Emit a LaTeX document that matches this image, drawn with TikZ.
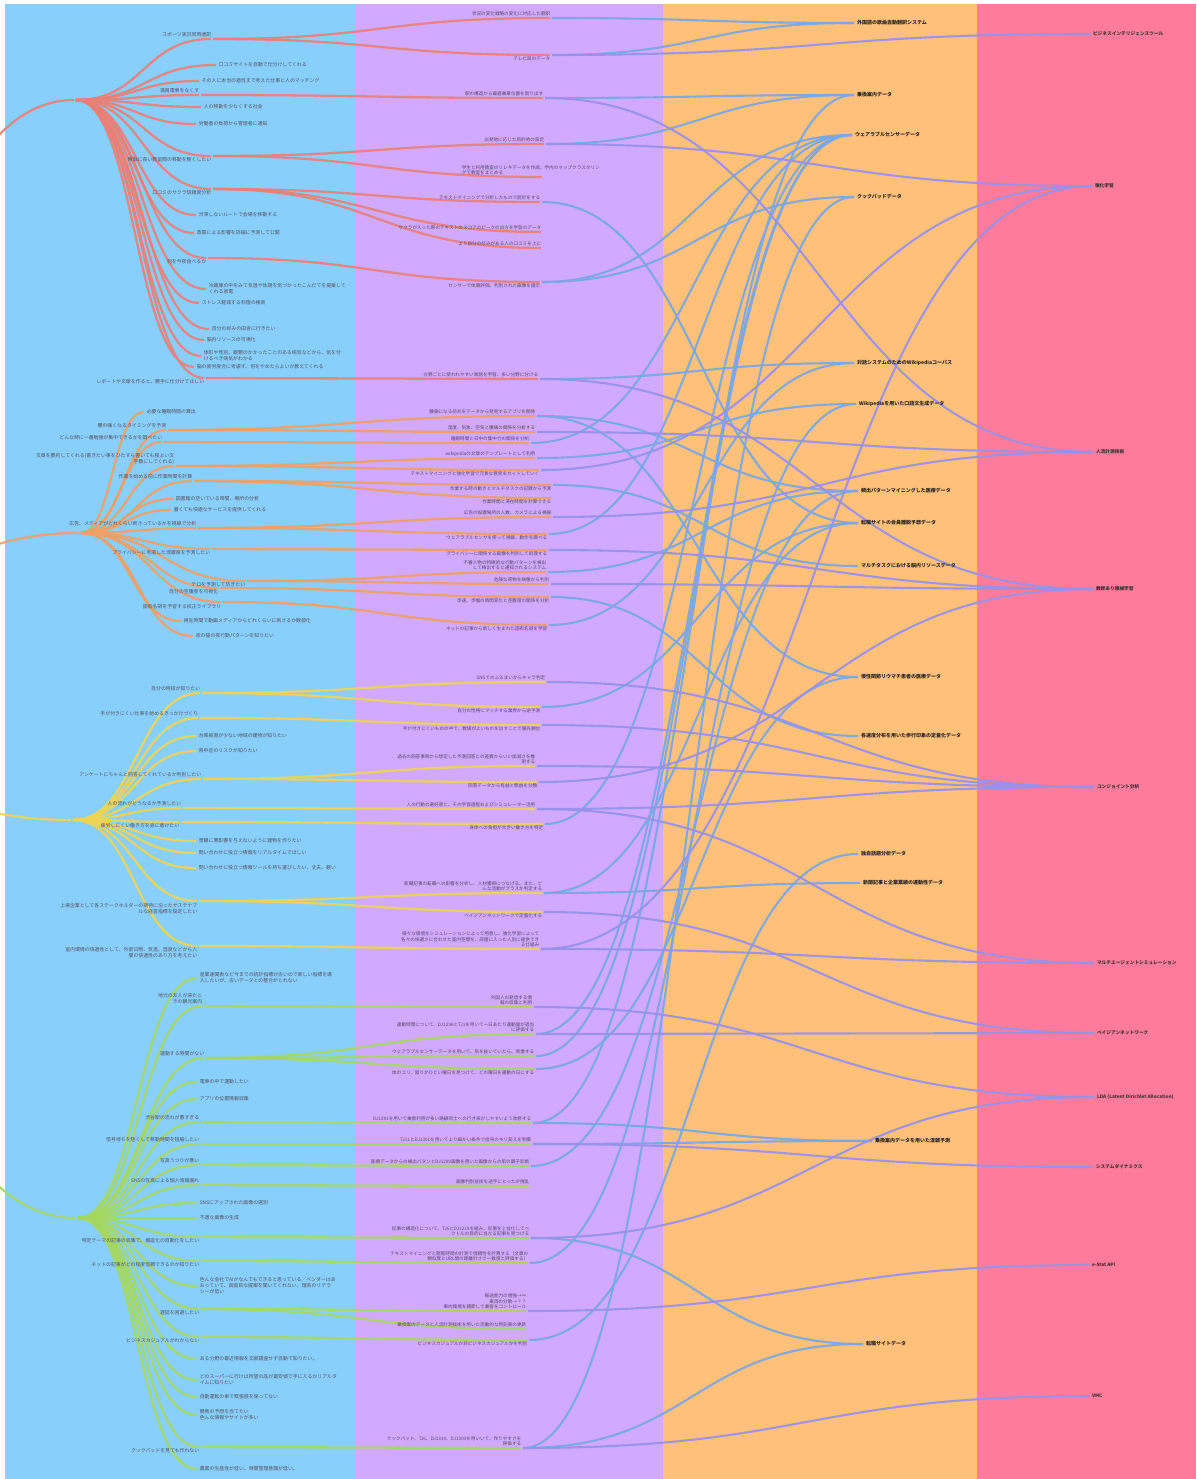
\documentclass[tikz,border=0pt]{standalone}
\usepackage{fontspec}
\newfontfamily\jpf{Noto Sans CJK JP}
\usetikzlibrary{calc}
\definecolor{cblue}{RGB}{137,207,252}
\definecolor{cpurp}{RGB}{209,170,255}
\definecolor{corng}{RGB}{255,192,122}
\definecolor{cpink}{RGB}{255,123,155}
\definecolor{lred}{RGB}{234,128,118}
\definecolor{lorng}{RGB}{240,160,98}
\definecolor{lyell}{RGB}{240,212,82}
\definecolor{lgrn}{RGB}{166,216,96}
\definecolor{lblu}{RGB}{122,168,228}
\definecolor{lvio}{RGB}{152,146,234}
\definecolor{txt}{RGB}{84,82,92}
\definecolor{ptxt}{RGB}{92,70,96}
\pgfdeclarelayer{bg}\pgfdeclarelayer{ln}\pgfsetlayers{bg,ln,main}
\begin{document}
\begin{tikzpicture}[x=1pt, y=-1pt,
    link/.style={to path={let \p1=(\tikztostart), \p2=(\tikztotarget) in
        .. controls ({(\x1+\x2)/2},\y1) and ({(\x1+\x2)/2},\y2) .. (\tikztotarget)}},
    ln/.style={line width=2.3pt, opacity=.9},
    redln/.style={ln, draw=lred},
    orgln/.style={ln, draw=lorng},
    yelln/.style={ln, draw=lyell},
    grnln/.style={ln, draw=lgrn},
    bluln/.style={line width=2.1pt, draw=lblu, opacity=.95},
    violn/.style={line width=2.1pt, draw=lvio, opacity=.95},
    tip/.style={circle, inner sep=0pt, minimum size=1.6pt},
    lb/.style={font=\jpf\fontsize{4.9}{6}\selectfont, text=txt, inner sep=.6pt},
    ul/.style={label={[lb, align=right, anchor=south east]north:#1}},
    dl/.style={label={[lb, align=right, anchor=north east]south:#1}},
    rt/.style={label={[lb, align=left, anchor=west]east:#1}},
  ]
  \useasboundingbox (0,0) rectangle (1196,1479);
  \begin{pgfonlayer}{bg}
    \fill[cblue] (5,4)   rectangle (356,1479);
    \fill[cpurp] (356,4) rectangle (663,1479);
    \fill[corng] (663,4) rectangle (977,1479);
    \fill[cpink] (977,4) rectangle (1196,1479);
  \end{pgfonlayer}

  % needs
  \coordinate (root) at (-320,700);
  \node[tip] (hr) at (75,100)  {};
  \node[tip] (ho) at (80,533)  {};
  \node[tip] (hy) at (72,820)  {};
  \node[tip] (hg) at (77,1218) {};

  \node[tip, ul={スポーツ実況同時通訳}] (r1) at (212,39) {};
  \node[tip, rt={口コミサイトを自動で仕分けしてくれる}] (r2) at (217,65) {};
  \node[tip, rt={その人に本当の適性まで考えた仕事と人のマッチング}] (r3) at (200,81) {};
  \node[tip, ul={満員電車をなくす}] (r4) at (200,95) {};
  \node[tip, rt={人の移動を少なくする社会}] (r5) at (202,107) {};
  \node[tip, rt={労働者の負荷から管理者に通知}] (r6) at (197,124) {};
  \node[tip, dl={無駄に長い教室間の移動を無くしたい}] (r7) at (212,156) {};
  \node[tip, dl={口コミのサクラ信頼度分析}] (r8) at (212,189) {};
  \node[tip, rt={渋滞しないルートで会場を移動する}] (r9) at (197,215) {};
  \node[tip, rt={政策による影響を詳細に予測して公開}] (r10) at (195,233) {};
  \node[tip, dl={何を今夜食べるか}] (r11) at (207,258) {};
  \node[tip, rt={冷蔵庫の中をみて気温や体調を気づかったこんだてを提案して\\くれる家電}] (r12) at (207,289) {};
  \node[tip, rt={ストレス軽減する料理の検索}] (r13) at (200,303) {};
  \node[tip, rt={自分の好みの田舎に行きたい}] (r14) at (210,329) {};
  \node[tip, rt={脳内リソースの可視化}] (r15) at (205,340) {};
  \node[tip, rt={体形や性別、親類のかかったことのある病気などから、気を付\\けるべき病気がわかる}] (r16) at (202,356) {};
  \node[tip, rt={脳の疲労度合に考慮す、何をやめたらよいか教えてくれる}] (r17) at (195,367) {};
  \node[tip, dl={レポートや文章を作ると、勝手に仕分けてほしい}] (r18) at (205,378) {};

  \node[tip, rt={必要な睡眠時間の算出}] (o1) at (145,412) {};
  \node[tip, ul={腰の痛くなるタイミングを予測}] (o2) at (167,430) {};
  \node[tip, ul={どんな時に一番勉強が集中できるかを調べたい}] (o3) at (163,442) {};
  \node[tip, ul={文章を要約してくれる(書きたい事をひたすら書いても程よい文\\字数にしてくれる)}] (o4) at (175,466) {};
  \node[tip, ul={作業を始める前に作業時間を計算}] (o5) at (193,481) {};
  \node[tip, rt={図書館の空いている時間、場所の分析}] (o6) at (174,499) {};
  \node[tip, rt={暑くても快適なサービスを提供してくれる}] (o7) at (172,510) {};
  \node[tip, ul={広告、メディアがどれくらい刺さっているかを視線で分析}] (o8) at (197,528) {};
  \node[tip, dl={プライバシーに考慮した混雑度を予測したい}] (o9) at (211,549) {};
  \node[tip, dl={テロを予測して防ぎたい}] (o10) at (246,581) {};
  \node[tip, dl={自分の空腹度を可視化}] (o11) at (219,588) {};
  \node[tip, dl={固有名詞を予習する校正ライブラリ}] (o12) at (222,602) {};
  \node[tip, rt={再生時間で動画メディアからどれくらいに刺さるか数値化}] (o13) at (182,621) {};
  \node[tip, rt={家の猫の夜行動パターンを知りたい}] (o14) at (194,636) {};

  \node[tip, ul={自分の特技が知りたい}] (y1) at (201,693) {};
  \node[tip, ul={手が付きにくい仕事を始めるきっかけづくり}] (y2) at (199,718) {};
  \node[tip, rt={台風被害が少ない地域の建物が知りたい}] (y3) at (197,736) {};
  \node[tip, rt={熱中症のリスクが知りたい}] (y4) at (197,751) {};
  \node[tip, ul={アンケートにちゃんと回答してくれているか判別したい}] (y5) at (202,779) {};
  \node[tip, ul={人の流れがどうなるか予測したい}] (y6) at (182,808) {};
  \node[tip, dl={疲労しにくい働き方を身に着けたい}] (y7) at (180,822) {};
  \node[tip, rt={景観に悪影響を与えないように建物を作りたい}] (y8) at (197,841) {};
  \node[tip, rt={問い合わせに役立つ情報をリアルタイムでほしい}] (y9) at (197,853) {};
  \node[tip, rt={問い合わせに役立つ情報ツールを持ち運びしたい、丈夫、軽い}] (y10) at (197,868) {};
  \node[tip, dl={上場企業として各ステークホルダーの期待に沿ったサステナブ\\ルな経営指標を設定したい}] (y11) at (198,901) {};
  \node[tip, dl={室内環境の快適性として、外部日照、気温、湿度などから人\\間の快適性のあり方を考えたい}] (y12) at (198,946) {};

  \node[tip, rt={産業連関表など今までの統計指標が古いので新しい指標を導\\入したいが、古いデータとの整合がとれない}] (g1) at (198,978) {};
  \node[tip, ul={地元の友人が来たと\\きの観光案内}] (g2) at (203,1006) {};
  \node[tip, ul={運動する時間がない}] (g3) at (205,1058) {};
  \node[tip, rt={電車の中で運動したい}] (g4) at (198,1082) {};
  \node[tip, rt={アプリの位置情報収集}] (g5) at (198,1099) {};
  \node[tip, ul={渋谷駅の流れが悪すぎる}] (g6) at (200,1122) {};
  \node[tip, ul={信号待ちを短くして移動時間を短縮したい}] (g7) at (200,1144) {};
  \node[tip, ul={写真うつりが悪い}] (g8) at (200,1165) {};
  \node[tip, ul={SNSの写真による個人情報漏れ}] (g9) at (200,1185) {};
  \node[tip, rt={SNSにアップされた画像の選別}] (g10) at (198,1203) {};
  \node[tip, rt={不適な画像の生成}] (g11) at (198,1218) {};
  \node[tip, dl={特定テーマの記事の収集で、構造化の自動化をしたい}] (g12) at (200,1237) {};
  \node[tip, dl={ネットの記事がどの程度信頼できるのか知りたい}] (g13) at (200,1261) {};
  \node[tip, rt={色んな会社でAIがなんでもできると思っている／ベンダーはあ\\おっていて、真面目な提案を聞いてくれない、理系のリテラ\\シーが低い}] (g14) at (198,1286) {};
  \node[tip, dl={遅延を回避したい}] (g15) at (200,1309) {};
  \node[tip, dl={ビジネスカジュアルがわからない}] (g16) at (200,1337) {};
  \node[tip, rt={ある分野の最近情報を文献調査せず自動で知りたい。}] (g17) at (198,1359) {};
  \node[tip, rt={どのスーパーに行けば所望の品が最安値で手に入るかリアルタ\\イムに知りたい}] (g18) at (198,1380) {};
  \node[tip, rt={自動運転の車で緊張感を保ってない}] (g19) at (198,1397) {};
  \node[tip, rt={競馬の予想を当てたい\\色んな情報やサイトが多い}] (g20) at (198,1415) {};
  \node[tip, dl={クックパッドを見ても作れない}] (g21) at (200,1447) {};
  \node[tip, rt={農業の生産性が低い、時間管理意識が低い。}] (g22) at (198,1469) {};

  % ideas
  \begin{scope}[lb/.style={font=\jpf\fontsize{4.6}{5.5}\selectfont, text=ptxt, inner sep=.6pt}]
    \node[tip, ul={状況の変化戦略の変化に対応した翻訳}] (p1) at (551,18) {};
    \node[tip, dl={テレビ局のデータ}] (p2) at (551,55) {};
    \node[tip, ul={駅の構造から最適乗車位置を割り出す}] (p3) at (544,98) {};
    \node[tip, ul={出発地に応じた目的地の設定}] (p4) at (545,144) {};
    \node[tip] (p5) at (543,177) {};
    \node[lb, align=left, anchor=south west] at ([xshift=-82pt]p5.north) {学生と利用教室のリレキデータを作成、学内のマップクラスタリン\\グで教室をまとめる};
    \node[tip, ul={テキストマイニングで分析したもので統計をする}] (p6) at (541,202) {};
    \node[tip, ul={サクラが入った際のテキストのスコアのピークの出方を学習のデータ}] (p7) at (542,232) {};
    \node[tip, ul={より自分の好みがある人の口コミを上に}] (p8) at (542,248) {};
    \node[tip, dl={センサーで体調評価、判別された画像を提示}] (p9) at (541,282) {};
    \node[tip, ul={分野ごとに使われやすい単語を学習、多い分野に分ける}] (p10) at (539,379) {};

    \node[tip, ul={腰痛になる前兆をデータから発見するアプリを開発}] (po1) at (536,416) {};
    \node[tip, ul={湿度、気象、空気と腰痛の関係を分析する}] (po2) at (536,432) {};
    \node[tip, ul={睡眠時間と日中の集中力の関係を分析}] (po3) at (530,443) {};
    \node[tip, ul={wikipediaの文章のテンプレートとして利用}] (po4) at (536,458) {};
    \node[tip, dl={テキストマイニングと強化学習で冗長な意見をカットしていく}] (po5) at (540,470) {};
    \node[tip, dl={作業する時の動きとマルチタスクの記録から予測}] (po6) at (552,485) {};
    \node[tip, dl={作業時間と滞在時間を計算できる}] (po7) at (552,498) {};
    \node[tip, ul={広告の設置場所の人数、カメラによる視線}] (po8) at (552,517) {};
    \node[tip, dl={ウェアラブルセンサを使って視線、動作を調べる}] (po9) at (548,534) {};
    \node[tip, dl={プライバシーに関係する画像を判別して処理する}] (po10) at (548,550) {};
    \node[tip, ul={不審人物の特徴的な行動パターンを検出\\して検出すると通知されるシステム}] (po11) at (547,572) {};
    \node[tip, ul={危険な荷物を映像から判別}] (po12) at (550,584) {};
    \node[tip, dl={歩速、歩幅の時間変化と空腹度の関係を分析}] (po13) at (550,597) {};
    \node[tip, dl={ネットの記事から新しく生まれた固有名詞を学習}] (po14) at (548,625) {};

    \node[tip, ul={SNSでのふるまいからキャラ判定}] (py1) at (546,682) {};
    \node[tip, dl={自分の性格にマッチする業界から逆予測}] (py2) at (541,707) {};
    \node[tip, dl={手が付きにくいものの中で、数値がよいものを出すことで優先順位}] (py3) at (541,725) {};
    \node[tip, ul={過去の回答事例から想定した予測回答との差異からいい加減さを推\\測する}] (py4) at (536,766) {};
    \node[tip, dl={回答データから有益と無益を分類}] (py5) at (538,782) {};
    \node[tip, ul={人の行動の選好度と、その学習過程およびシミュレーター活用}] (py6) at (536,809) {};
    \node[tip, dl={身体への負担が大きい働き方を特定}] (py7) at (544,824) {};
    \node[tip, ul={新聞記事の転職への影響を分析し、人材獲得につなげる。また、ど\\んな活動がプラスか判定する}] (py8) at (543,893) {};
    \node[tip, dl={ベイジアンネットワークで定量化する}] (py9) at (543,912) {};
    \node[tip, ul={様々な環境をシミュレーションによって用意し、強化学習によって\\各々の快適さに合わせた室内空間を、部屋に入った人別に提供でき\\る仕組み}] (py10) at (540,949) {};

    \node[tip, ul={外国人の発信する情\\報の収集と利用}] (pg1) at (533,1007) {};
    \node[tip, ul={運動時間について、DJ1296とTJ1を用いて一日あたり運動量が適当\\に評価する}] (pg2) at (535,1034) {};
    \node[tip, ul={ウェアラブルセンサーデータを用いて、気を抜いていたら、刺激する}] (pg3) at (535,1056) {};
    \node[tip, dl={体のコリ、固りがひどい曜日を見つけて、どの曜日を運動の日にする}] (pg4) at (535,1069) {};
    \node[tip, ul={DJ1301を用いて乗換利用が多い路線同士への行き来がしやすいよう改修する}] (pg5) at (532,1123) {};
    \node[tip, ul={TJ11とDJ1301を用いてより細かい条件で信号のキリ変えを制御}] (pg6) at (532,1144) {};
    \node[tip, ul={医療データからの検出パタンとDJ1299画像を用いた画像からの肌の調子診断}] (pg7) at (530,1166) {};
    \node[tip, ul={画像判別技術を逆手にとったIP撹乱}] (pg8) at (530,1186) {};
    \node[tip, ul={記事の構造化について、TJ6とDJ1219を組み、記事を上位化してベ\\クトルの目的に当たる記事を見つける}] (pg9) at (530,1238) {};
    \node[tip, ul={テキストマイニングと閲覧時間の計測で信頼性を計算する（文章の\\類似度とURL間の距離計さで一致度と評価する）}] (pg10) at (529,1263) {};
    \node[tip, ul={輸送能力の増強→∞\\車両の分散→？？\\車内環境を調節して乗客をコントロール}] (pg11) at (527,1311) {};
    \node[tip, ul={乗換案内データと人流計測技術を用いた流動的な時刻表の更新}] (pg12) at (527,1329) {};
    \node[tip, dl={ビジネスカジュアルか非ビジネスカジュアルかを判別}] (pg13) at (528,1340) {};
    \node[tip, ul={クックパッド、TJ6、DJ1319、DJ1303を用いいて、作りやすさを\\評価する}] (pg14) at (522,1448) {};
  \end{scope}

  % data
  \begin{scope}[lb/.style={font=\jpf\bfseries\fontsize{5}{6}\selectfont, text=black!85, inner sep=.8pt}]
    \node[tip, rt={外国語の歌曲自動翻訳システム}] (d1) at (855,23) {};
    \node[tip, rt={乗換案内データ}] (d2) at (855,95) {};
    \node[tip, rt={ウェアラブルセンサーデータ}] (d3) at (853,135) {};
    \node[tip, rt={クックパッドデータ}] (d4) at (855,197) {};
    \node[tip, rt={対話システムのためのWikipediaコーパス}] (d5) at (855,363) {};
    \node[tip, rt={Wikipediaを用いた口語文生成データ}] (d6) at (857,404) {};
    \node[tip, rt={頻出パターンマイニングした医療データ}] (d7) at (859,491) {};
    \node[tip, rt={転職サイトの会員離脱予想データ}] (d8) at (859,523) {};
    \node[tip, rt={マルチタスクにおける脳内リソースデータ}] (d9) at (859,566) {};
    \node[tip, rt={慢性関節リウマチ患者の医療データ}] (d10) at (859,677) {};
    \node[tip, rt={各速度分布を用いた歩行印象の定量化データ}] (d11) at (859,736) {};
    \node[tip, rt={独自話題分析データ}] (d12) at (859,854) {};
    \node[tip, rt={新聞記事と企業業績の連動性データ}] (d13) at (861,883) {};
    \node[tip, rt={乗換案内データを用いた混雑予測}] (d14) at (873,1141) {};
    \node[tip, rt={転職サイトデータ}] (d15) at (864,1344) {};
  \end{scope}

  % techniques
  \begin{scope}[lb/.style={font=\jpf\bfseries\fontsize{4.7}{6}\selectfont, text=black!80, inner sep=.8pt}]
    \node[tip, rt={ビジネスインテリジェンスツール}] (k1) at (1091,34) {};
    \node[tip, rt={強化学習}] (k2) at (1093,186) {};
    \node[tip, rt={人流計測技術}] (k3) at (1094,452) {};
    \node[tip, rt={教師あり機械学習}] (k4) at (1094,589) {};
    \node[tip, rt={コンジョイント分析}] (k5) at (1095,787) {};
    \node[tip, rt={マルチエージェントシミュレーション}] (k6) at (1095,963) {};
    \node[tip, rt={ベイジアンネットワーク}] (k7) at (1095,1033) {};
    \node[tip, rt={LDA (Latent Dirichlet Allocation)}] (k8) at (1095,1097) {};
    \node[tip, rt={システムダイナミクス}] (k9) at (1094,1167) {};
    \node[tip, rt={e-Stat API}] (k10) at (1090,1265) {};
    \node[tip, rt={VMC}] (k11) at (1090,1396) {};
  \end{scope}

  \begin{pgfonlayer}{ln}
    \foreach \a/\b in {p1/d1, p2/d1, p3/d2, p4/d2, p6/d8, p9/d3, p9/d4, p10/d5,
        po1/d7, po1/d10, po3/d3, po4/d6, po6/d9, po9/d3, po11/d7, po13/d11, po14/d5,
        py2/d8, py7/d3, py8/d13, py8/d8,
        pg2/d3, pg3/d3, pg4/d10, pg5/d14, pg5/d2, pg6/d14, pg7/d7, pg9/d15,
        pg10/d6, pg13/d12, pg14/d4, pg14/d15}
      \draw[bluln] (\a) to[link] (\b);
    \foreach \a/\b in {p2/k1, p3/k3, p4/k2, p10/k4, po2/k3, po5/k2, po8/k3, po10/k4,
        po12/k4, py1/k5, py3/k5, py4/k5, py5/k4, py6/k6, py6/k5, py9/k7, py10/k6,
        py10/k2, pg1/k8, pg2/k7, pg6/k9, pg9/k8, pg11/k10, pg14/k11}
      \draw[violn] (\a) to[link] (\b);

    \draw[redln] (root) to[link] (hr);
    \draw[orgln] (root) to[link] (ho);
    \draw[yelln] (root) to[link] (hy);
    \draw[grnln] (root) to[link] (hg);
    \foreach \i in {1,...,18} \draw[redln] (hr) to[link] (r\i);
    \foreach \i in {1,...,14} \draw[orgln] (ho) to[link] (o\i);
    \foreach \i in {1,...,12} \draw[yelln] (hy) to[link] (y\i);
    \foreach \i in {1,...,22} \draw[grnln] (hg) to[link] (g\i);

    \foreach \a/\b in {r1/p1, r1/p2, r4/p3, r7/p4, r7/p5, r8/p6, r8/p7, r8/p8,
        r11/p9, r18/p10}
      \draw[redln] (\a) to[link] (\b);
    \foreach \a/\b in {o2/po1, o2/po2, o3/po3, o4/po4, o4/po5, o5/po6, o5/po7,
        o8/po8, o8/po9, o9/po10, o10/po11, o10/po12, o11/po13, o12/po14}
      \draw[orgln] (\a) to[link] (\b);
    \foreach \a/\b in {y1/py1, y1/py2, y2/py3, y5/py4, y5/py5, y6/py6, y7/py7,
        y11/py8, y11/py9, y12/py10}
      \draw[yelln] (\a) to[link] (\b);
    \foreach \a/\b in {g2/pg1, g3/pg2, g3/pg3, g3/pg4, g6/pg5, g7/pg6, g8/pg7,
        g9/pg8, g12/pg9, g13/pg10, g15/pg11, g15/pg12, g16/pg13, g21/pg14}
      \draw[grnln] (\a) to[link] (\b);
  \end{pgfonlayer}
\end{tikzpicture}
\end{document}
